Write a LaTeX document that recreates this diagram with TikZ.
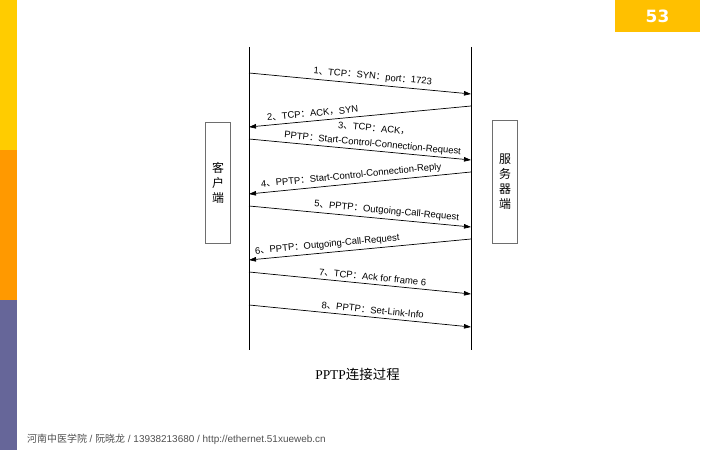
\documentclass[tikz,border=0pt]{standalone}
\usepackage{fontspec}
\setmainfont{Liberation Sans}
\newfontfamily\cjk{Noto Sans CJK SC}
\newfontfamily\capserif{Liberation Serif}
\newfontfamily\pagefont{DejaVu Sans}
\usetikzlibrary{arrows.meta,positioning}
\definecolor{baryellow}{RGB}{255,204,0}
\definecolor{barorange}{RGB}{255,153,0}
\definecolor{barpurple}{RGB}{102,102,153}
\definecolor{pagegold}{RGB}{255,192,0}
\definecolor{footgray}{RGB}{80,80,80}
\definecolor{boxgray}{RGB}{110,110,110}
\newcommand{\zdun}{{\cjk 、}}
\newcommand{\zcol}{{\cjk ：}}
\newcommand{\zcom}{{\cjk ，}}
\tikzset{
  lifeline/.style={black, line width=1bp},
  msg/.style={black, line width=0.7bp, -{Triangle[length=7bp,width=4.5bp]}},
  mlab/.style={sloped, above=2bp, inner sep=1bp, font=\fontsize{9.5}{12.5}\selectfont, align=center},
  peer/.style={draw=boxgray, line width=0.8bp, minimum width=25bp, inner sep=0pt,
    font=\cjk\fontsize{12}{15}\selectfont, align=center},
}

\begin{document}
\begin{tikzpicture}[x=1bp,y=-1bp]
  \useasboundingbox (0,0) rectangle (720,450);
  % slide frame
  \fill[baryellow] (0,0) rectangle (17,150);
  \fill[barorange] (0,150) rectangle (17,300);
  \fill[barpurple] (0,300) rectangle (17,450);
  \node[fill=pagegold, minimum width=85bp, minimum height=32bp, inner sep=0pt, text=white,
    font=\pagefont\bfseries\fontsize{17}{17}\selectfont] (page) at (657.5,16) {53};

  % the two parties
  \coordinate (ctop) at (249,47); \coordinate (cbot) at (249,350);
  \coordinate (stop) at (471,47); \coordinate (sbot) at (471,350);
  \draw[lifeline] (ctop) -- (cbot);
  \draw[lifeline] (stop) -- (sbot);
  \node[peer, minimum height=121bp] (client) at (218,182.5) {客\\户\\端};
  \node[peer, minimum height=123bp] (server) at (505,181.5) {服\\务\\器\\端};

  % messages
  \coordinate (c1) at (249,73);  \coordinate (s1) at (471,94);
  \coordinate (s2) at (471,106); \coordinate (c2) at (249,127);
  \coordinate (c3) at (249,139); \coordinate (s3) at (471,160);
  \coordinate (s4) at (471,172); \coordinate (c4) at (249,194);
  \coordinate (c5) at (249,206); \coordinate (s5) at (471,227);
  \coordinate (s6) at (471,239); \coordinate (c6) at (249,260);
  \coordinate (c7) at (249,272); \coordinate (s7) at (471,294);
  \coordinate (c8) at (249,305); \coordinate (s8) at (471,327);
  \draw[msg] (c1) -- node[mlab, pos=0.554] (m1) {1\zdun TCP\zcol SYN\zcol port\zcol 1723} (s1);
  \draw[msg] (s2) -- node[mlab, pos=0.71] (m2) {2\zdun TCP\zcol ACK\zcom SYN} (c2);
  \draw[msg] (c3) -- node[mlab, pos=0.554, above=1.5bp, inner sep=0.5bp] (m3) {3\zdun TCP\zcol ACK\zcom\\[2.5bp]PPTP\zcol Start-Control-Connection-Request} (s3);
  \draw[msg] (s4) -- node[mlab, pos=0.536] (m4) {4\zdun PPTP\zcol Start-Control-Connection-Reply} (c4);
  \draw[msg] (c5) -- node[mlab, pos=0.617] (m5) {5\zdun PPTP\zcol Outgoing-Call-Request} (s5);
  \draw[msg] (s6) -- node[mlab, pos=0.644] (m6) {6\zdun PPTP\zcol Outgoing-Call-Request} (c6);
  \draw[msg] (c7) -- node[mlab, pos=0.554] (m7) {7\zdun TCP\zcol Ack for frame 6} (s7);
  \draw[msg] (c8) -- node[mlab, pos=0.554] (m8) {8\zdun PPTP\zcol Set-Link-Info} (s8);

  \node[font=\fontsize{13.5}{13.5}\selectfont] (caption) at (357.5,374) {{\capserif PPTP}{\cjk 连接过程}};
  \node[anchor=west, inner sep=0pt, text=footgray, font=\fontsize{10}{10}\selectfont] (footer) at (27,439)
    {{\cjk 河南中医学院} / {\cjk 阮晓龙} / 13938213680 / http://ethernet.51xueweb.cn};
\end{tikzpicture}
\end{document}
